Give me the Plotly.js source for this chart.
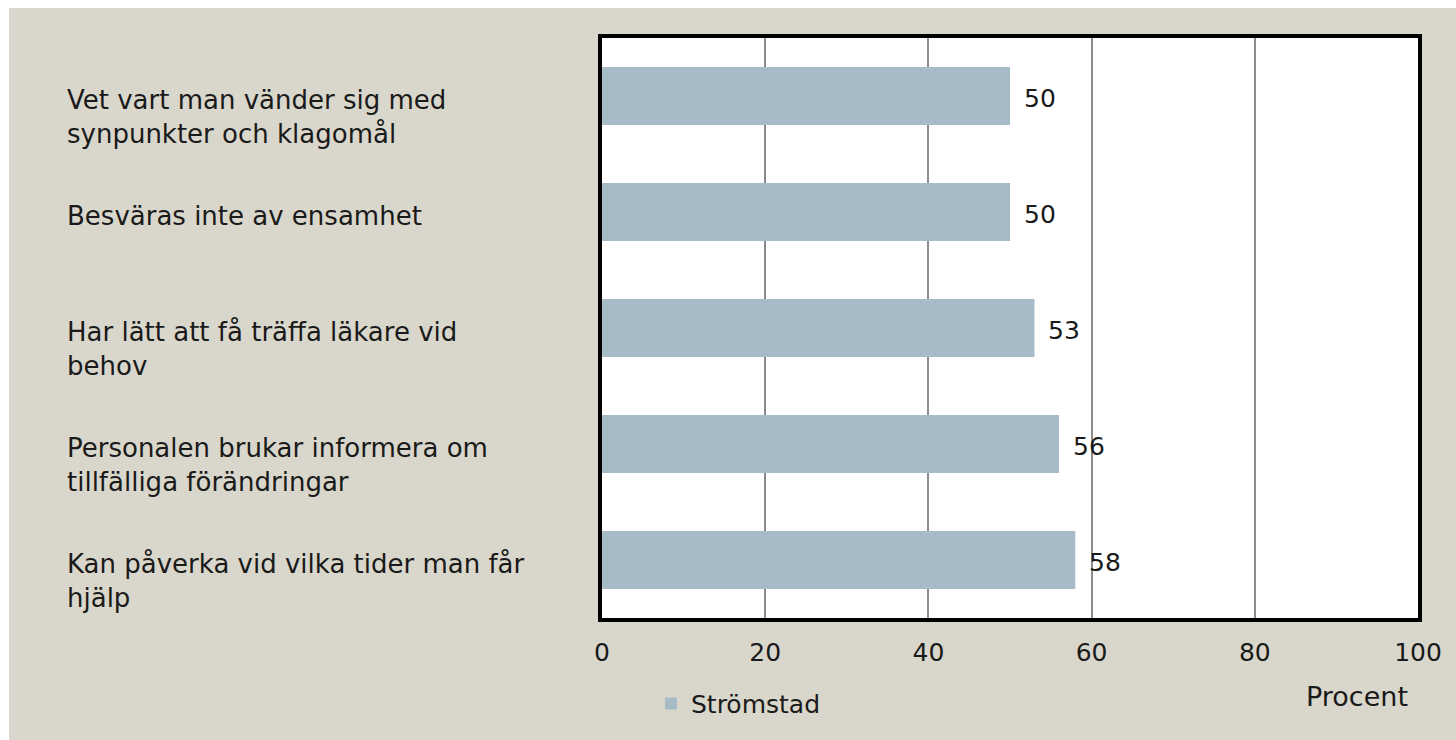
<!DOCTYPE html>
<html>
<head>
<meta charset="utf-8">
<script src="https://cdn.plot.ly/plotly-3.0.1.min.js"></script>
<style>
  html, body { margin: 0; padding: 0; background: #ffffff; }
  #chart { position: absolute; left: 9px; top: 8px; width: 1447px; height: 732px; }
</style>
</head>
<body>
<div id="chart"></div>
<script>
const categories = [
  "Vet vart man vänder sig med<br>synpunkter och klagomål",
  "Besväras inte av ensamhet",
  "Har lätt att få träffa läkare vid<br>behov",
  "Personalen brukar informera om<br>tillfälliga förändringar",
  "Kan påverka vid vilka tider man får<br>hjälp"
];
const values = [50, 50, 53, 56, 58];
const seriesName = "Strömstad";
const tickValues = [0, 20, 40, 60, 80, 100];
const xTitle = "Procent";

const FONT = "DejaVu Sans, sans-serif";
const textColor = "#1a1a1a";

const trace = {
  type: "bar",
  orientation: "h",
  name: seriesName,
  x: values,
  y: categories,
  width: 0.5,
  marker: { color: "#a7bbc6" },
  hoverinfo: "x+y",
  showlegend: true
};

const annotations = [];
categories.forEach((c, i) => {
  annotations.push({
    xref: "paper", yref: "y", x: 0, y: c,
    xanchor: "left", yanchor: "top", xshift: -537, yshift: 13,
    align: "left", showarrow: false, text: c,
    font: { family: FONT, size: 26, color: textColor }
  });
  annotations.push({
    xref: "x", yref: "y", x: values[i], y: c,
    xanchor: "left", yanchor: "middle", xshift: 12, yshift: -2,
    showarrow: false, text: String(values[i]),
    font: { family: FONT, size: 25, color: textColor }
  });
});
annotations.push({
  xref: "paper", yref: "paper", x: 0.925, y: 0, yanchor: "middle", xanchor: "center",
  yshift: -78, showarrow: false, text: xTitle,
  font: { family: FONT, size: 27, color: textColor }
});

const layout = {
  paper_bgcolor: "#d9d7cb",
  plot_bgcolor: "#ffffff",
  margin: { l: 593, r: 38, t: 30, b: 122 },
  font: { family: FONT, size: 25, color: textColor },
  xaxis: {
    range: [0, 100],
    tickvals: tickValues,
    ticktext: tickValues.map(String),
    showgrid: true, gridcolor: "#8c8c8c", gridwidth: 1.5,
    zeroline: false,
    showline: true, linecolor: "#000000", linewidth: 4, mirror: true,
    ticks: "", ticklabelstandoff: 9,
    tickfont: { family: FONT, size: 25, color: textColor },
    fixedrange: true
  },
  yaxis: {
    autorange: "reversed",
    showticklabels: false,
    showgrid: false, zeroline: false,
    showline: true, linecolor: "#000000", linewidth: 4, mirror: true,
    ticks: "",
    fixedrange: true
  },
  showlegend: true,
  legend: {
    orientation: "h", x: 0.06, y: -0.148, xanchor: "left", yanchor: "middle",
    yref: "paper", xref: "paper",
    bgcolor: "rgba(0,0,0,0)",
    font: { family: FONT, size: 25, color: textColor },
    itemwidth: 30
  },
  bargap: 0.5,
  annotations: annotations
};

Plotly.newPlot("chart", [trace], layout, { displayModeBar: false, responsive: false });
</script>
</body>
</html>
